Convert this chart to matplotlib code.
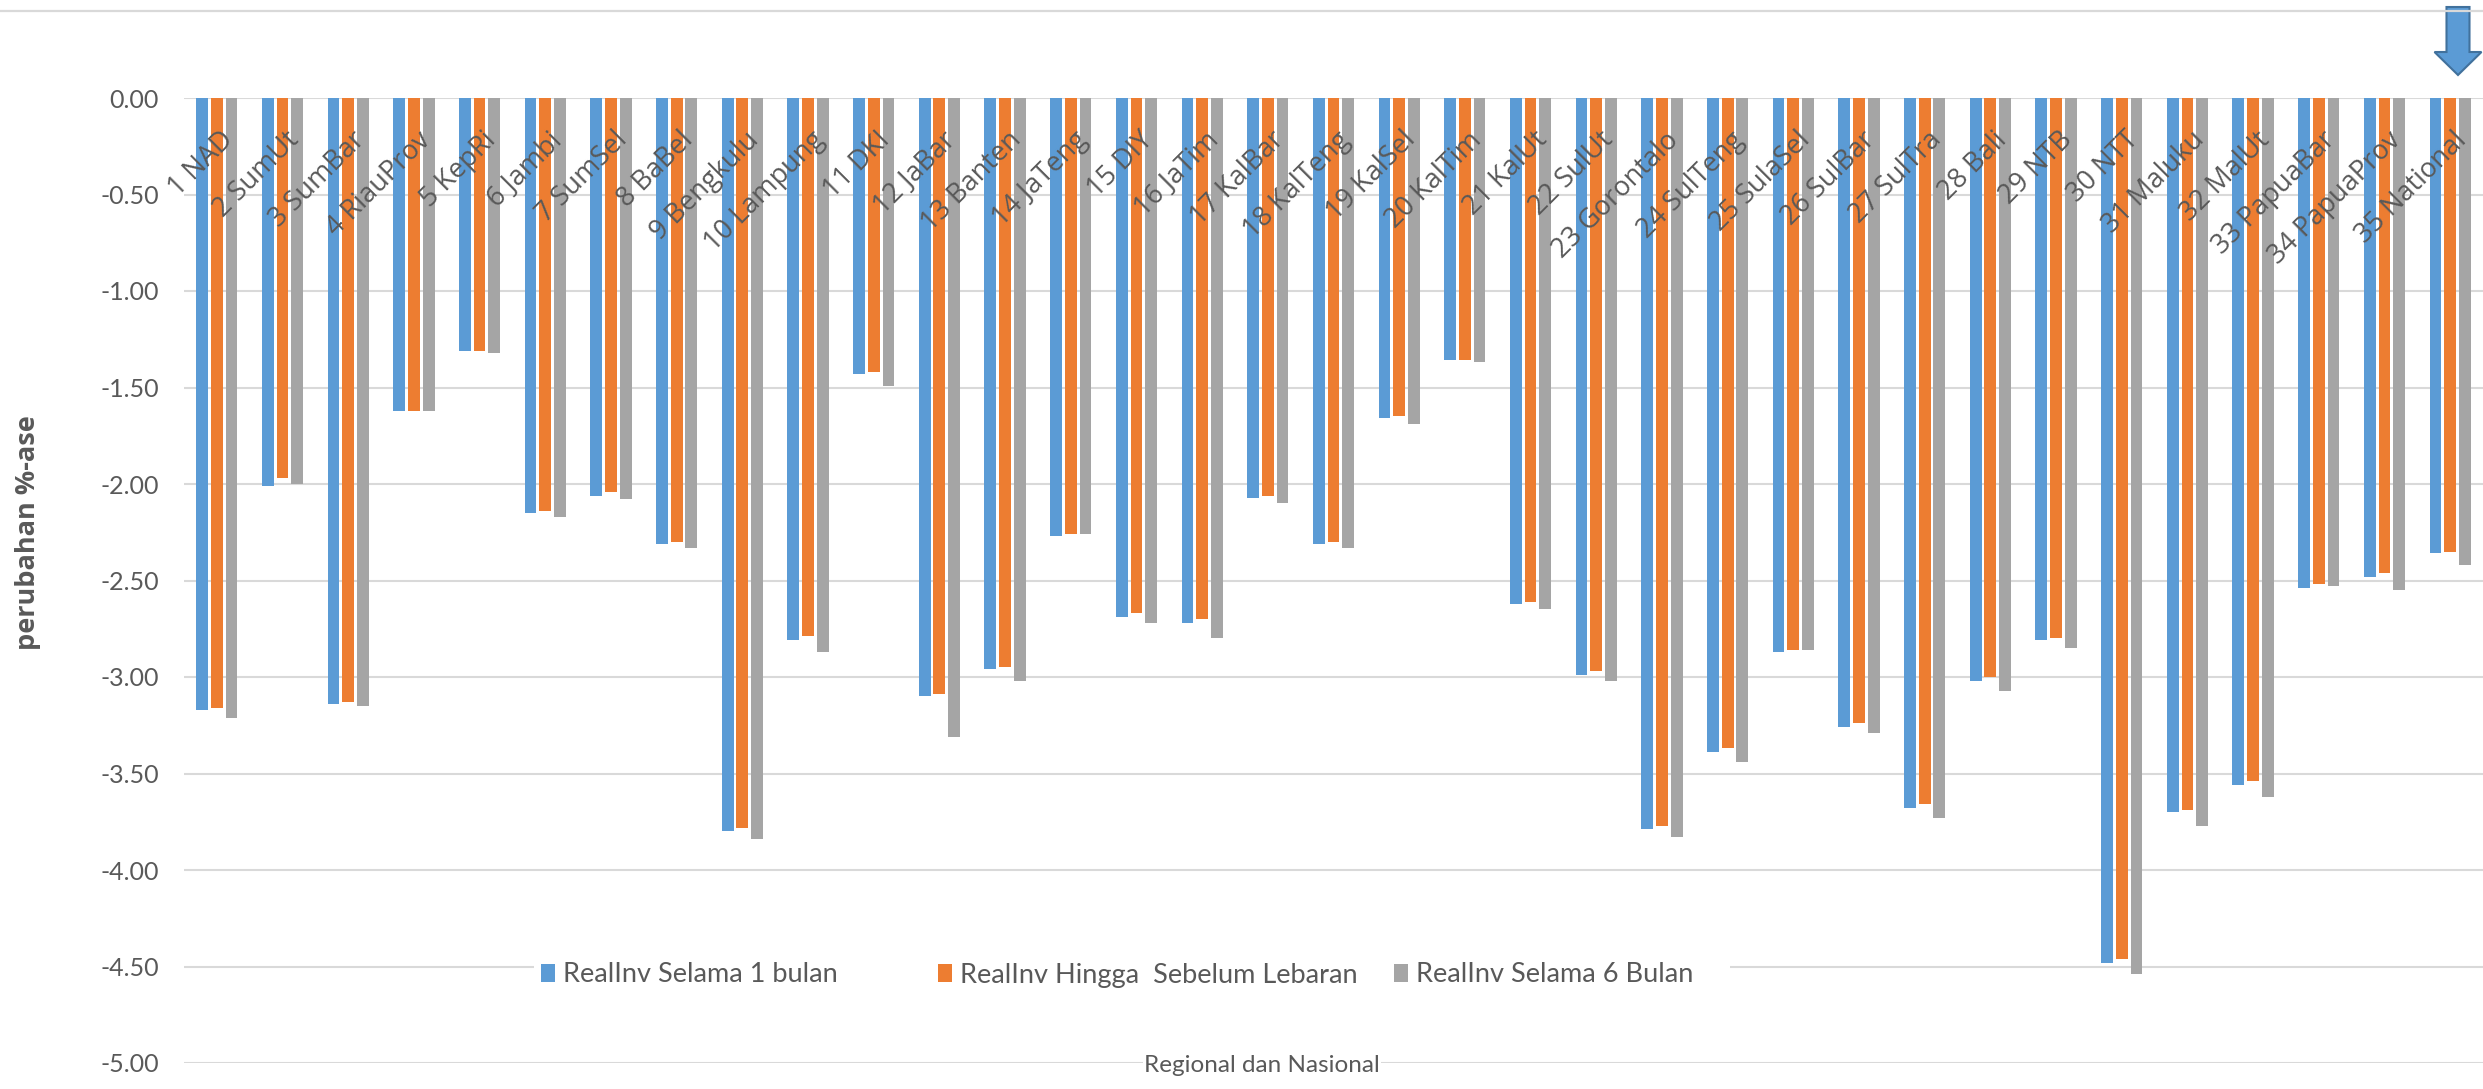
import matplotlib
matplotlib.use("Agg")
import matplotlib.pyplot as plt
from matplotlib.patches import FancyArrow, Rectangle
from matplotlib.lines import Line2D
import numpy as np

# regional investment change, percent
regions = ["1 NAD", "2 SumUt", "3 SumBar", "4 RiauProv", "5 KepRi", "6 Jambi",
           "7 SumSel", "8 BaBel", "9 Bengkulu", "10 Lampung", "11 DKI",
           "12 JaBar", "13 Banten", "14 JaTeng", "15 DIY", "16 JaTim",
           "17 KalBar", "18 KalTeng", "19 KalSel", "20 KalTim", "21 KalUt",
           "22 SulUt", "23 Gorontalo", "24 SulTeng", "25 SulaSel", "26 SulBar",
           "27 SulTra", "28 Bali", "29 NTB", "30 NTT", "31 Maluku", "32 MalUt",
           "33 PapuaBar", "34 PapuaProv", "35 National"]

one_month = [-3.17, -2.01, -3.14, -1.62, -1.31, -2.15, -2.06, -2.31, -3.80, -2.81,
             -1.43, -3.10, -2.96, -2.27, -2.69, -2.72, -2.07, -2.31, -1.66, -1.36,
             -2.62, -2.99, -3.79, -3.39, -2.87, -3.26, -3.68, -3.02, -2.81, -4.48,
             -3.70, -3.56, -2.54, -2.48, -2.36]
pre_lebaran = [-3.16, -1.97, -3.13, -1.62, -1.31, -2.14, -2.04, -2.30, -3.78, -2.79,
               -1.42, -3.09, -2.95, -2.26, -2.67, -2.70, -2.06, -2.30, -1.65, -1.36,
               -2.61, -2.97, -3.77, -3.37, -2.86, -3.24, -3.66, -3.00, -2.80, -4.46,
               -3.69, -3.54, -2.52, -2.46, -2.35]
six_months = [-3.21, -2.00, -3.15, -1.62, -1.32, -2.17, -2.08, -2.33, -3.84, -2.87,
              -1.49, -3.31, -3.02, -2.26, -2.72, -2.80, -2.10, -2.33, -1.69, -1.37,
              -2.65, -3.02, -3.83, -3.44, -2.86, -3.29, -3.73, -3.07, -2.85, -4.54,
              -3.77, -3.62, -2.53, -2.55, -2.42]

series_names = ["RealInv Selama 1 bulan", "RealInv Hingga  Sebelum Lebaran",
                "RealInv Selama 6 Bulan"]
colors = ["#5b9bd5", "#ed7d31", "#a5a5a5"]
text_color = "#595959"
grid_color = "#d9d9d9"

W, H = 2483, 1089
fig = plt.figure(figsize=(W / 100, H / 100), dpi=100)
ax = fig.add_axes([184 / W, 26 / H, 1 - 184 / W, (1063 - 98) / H])

x = np.arange(len(regions))
step = 0.224
bars = []
for k, (vals, name, c) in enumerate(zip([one_month, pre_lebaran, six_months],
                                        series_names, colors)):
    bars.append(ax.bar(x + (k - 1) * step, vals, width=0.18, color=c,
                       label=name, zorder=2))

ax.set_xlim(-0.5, len(regions) - 0.5)
ax.set_ylim(-5, 0)
yt = np.arange(-5, 0.01, 0.5)
ax.set_yticks(yt)
ax.set_yticklabels(["%.2f" % (v if v != 0 else 0.0) for v in yt])
ax.tick_params(axis="y", length=0, pad=18, labelsize=18, labelcolor=text_color)
for lab in ax.get_yticklabels():
    lab.set_fontfamily("Lato")
ax.set_xticks([])
ax.grid(axis="y", color=grid_color, linewidth=1.5, zorder=0)
ax.set_axisbelow(True)
for s in ax.spines.values():
    s.set_visible(False)

# category labels sit just under the zero line, on top of the bars
for i, name in enumerate(regions):
    ax.text(i + 0.19, -0.197, name, rotation=45, rotation_mode="anchor",
            ha="right", va="center", fontsize=19.5, family="Open Sans",
            color=text_color, zorder=5)

# legend entries placed one by one on a white strip
leg_y = 1 - 975 / H
fig.add_artist(Rectangle((534 / W, leg_y - 15 / H), (1730 - 534) / W, 30 / H,
                         transform=fig.transFigure, facecolor="white",
                         edgecolor="none", zorder=3))
for b, name, xpx in zip(bars, series_names, [541, 938, 1394]):
    leg = fig.legend([b], [name], loc="center left",
                     bbox_to_anchor=(xpx / W, leg_y), frameon=False,
                     borderpad=0, borderaxespad=0, handlelength=0.5,
                     handleheight=0.6, handletextpad=0.3,
                     prop={"family": "Lato", "size": 19.5})
    leg.get_texts()[0].set_color(text_color)
    leg.set_zorder(4)

fig.text(28 / W, 1 - 533 / H, "perubahan %-ase", rotation=90, ha="center",
         va="center", fontsize=19.5, family="Open Sans", fontweight="bold",
         color=text_color)
fig.text(1262 / W, 1 - 1066 / H, "Regional dan Nasional", ha="center",
         va="center", fontsize=17.5, family="Lato", color=text_color,
         bbox=dict(facecolor="white", edgecolor="none", pad=1))

# frame line along the top of the chart area
fig.add_artist(Line2D([0, 1], [1 - 11 / H, 1 - 11 / H], transform=fig.transFigure,
                      color=grid_color, linewidth=1.6))

# arrow pointing at the national bars
fig.add_artist(FancyArrow(2458 / W, 1 - 7 / H, 0, -(75 - 7) / H,
                          width=23 / W, head_width=47 / W, head_length=23 / H,
                          length_includes_head=True, transform=fig.transFigure,
                          facecolor="#5b9bd5", edgecolor="#41719c", linewidth=1.5))

fig.savefig("out.png", dpi=100, facecolor="white")
